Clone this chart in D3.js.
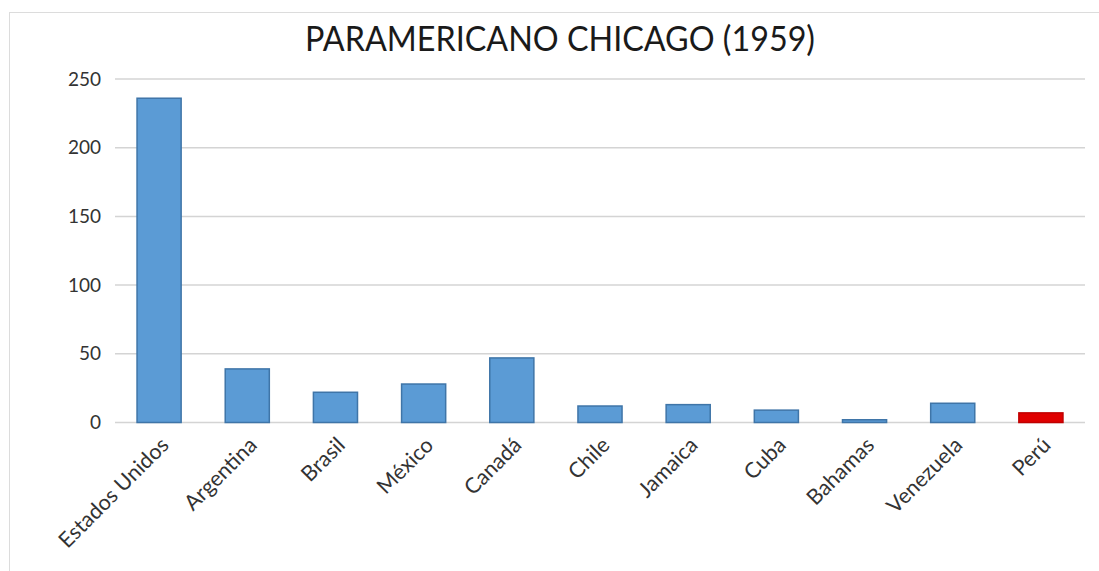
<!DOCTYPE html>
<html lang="es">
<head>
    <meta charset="UTF-8">
    <title>Paramericano Chicago (1959)</title>
    <script src="https://d3js.org/d3.v7.min.js"></script>
    <style>
        body, html {
            margin: 0;
            padding: 0;
            overflow: hidden;
            background: #fff;
        }
        svg {
            display: block;
        }
        text {
            font-family: Lato, "Open Sans", sans-serif;
        }
        .grid line {
            stroke: #d4d4d4;
            stroke-width: 1.5px;
        }
    </style>
</head>
<body>
<svg width="1099" height="571"></svg>

<script>
    const titulo = 'PARAMERICANO CHICAGO (1959)';
    const paises = ['Estados Unidos', 'Argentina', 'Brasil', 'México', 'Canadá', 'Chile',
                    'Jamaica', 'Cuba', 'Bahamas', 'Venezuela', 'Perú'];
    const medallas = [236, 39, 22, 28, 47, 12, 13, 9, 2, 14, 7];
    const resaltado = 'Perú';
    const ticksY = [0, 50, 100, 150, 200, 250];

    const svg = d3.select('svg');
    const datos = paises.map((p, i) => ({ pais: p, valor: medallas[i] }));

    const x = d3.scaleBand()
        .domain(paises)
        .range([115, 1085])
        .paddingInner(0.5)
        .paddingOuter(0.25);

    const y = d3.scaleLinear()
        .domain([0, 250])
        .range([422.5, 79]);

    // marco
    svg.append('rect')
        .attr('x', 9.5).attr('y', 12.5)
        .attr('width', 1200).attr('height', 700)
        .attr('fill', 'none')
        .attr('stroke', '#dcdcdc');

    svg.append('text')
        .attr('x', 560).attr('y', 51)
        .attr('text-anchor', 'middle')
        .attr('font-size', 35)
        .attr('textLength', 510)
        .attr('lengthAdjust', 'spacingAndGlyphs')
        .attr('fill', '#1a1a1a')
        .text(titulo);

    // lineas de cuadricula
    svg.append('g')
        .attr('class', 'grid')
        .selectAll('line')
        .data(ticksY)
        .enter().append('line')
        .attr('x1', 115).attr('x2', 1085)
        .attr('y1', d => y(d)).attr('y2', d => y(d));

    const ejeY = svg.append('g')
        .attr('transform', 'translate(115,0)')
        .call(d3.axisLeft(y).tickValues(ticksY).tickSize(0).tickPadding(14));
    ejeY.select('.domain').remove();
    ejeY.selectAll('text')
        .attr('font-size', 19)
        .attr('font-family', 'Lato, sans-serif')
        .attr('fill', '#333');

    svg.append('g')
        .selectAll('rect')
        .data(datos)
        .enter().append('rect')
        .attr('x', d => x(d.pais))
        .attr('y', d => y(d.valor))
        .attr('width', x.bandwidth())
        .attr('height', d => y(0) - y(d.valor))
        .attr('fill', d => d.pais === resaltado ? '#e00000' : '#5b9bd5')
        .attr('stroke', d => d.pais === resaltado ? '#c00000' : '#3f75a8')
        .attr('stroke-width', 1.5);

    const ejeX = svg.append('g')
        .attr('transform', `translate(0,${y(0)})`)
        .call(d3.axisBottom(x).tickSize(0).tickPadding(0));
    ejeX.select('.domain').remove();
    ejeX.selectAll('text')
        .attr('font-size', 21.5)
        .attr('font-family', 'Lato, sans-serif')
        .attr('fill', '#333')
        .attr('text-anchor', 'end')
        .attr('dy', 0)
        .attr('transform', 'translate(11,24) rotate(-45)');
</script>
</body>
</html>
